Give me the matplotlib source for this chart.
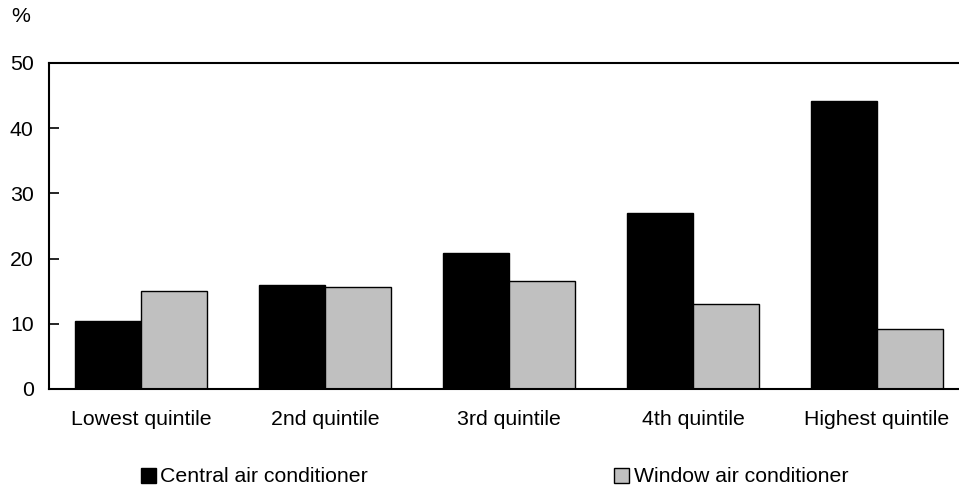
import numpy as np
import matplotlib
matplotlib.use('Agg')
import matplotlib.pyplot as plt

plt.rcParams['font.family'] = ['Liberation Sans', 'DejaVu Sans']
plt.rcParams['font.size'] = 15.3

categories = ['Lowest quintile', '2nd quintile', '3rd quintile', '4th quintile', 'Highest quintile']
central = [10.4, 15.9, 20.8, 27.0, 44.2]
window = [15.0, 15.6, 16.5, 13.1, 9.2]

fig = plt.figure(figsize=(9.59, 4.91), dpi=100)
# the plot area runs past the right edge of the figure, as in the source
ax = fig.add_axes([49/959, 1-389/491, 920/959, (389-63)/491])

x = np.arange(len(categories))
w = 0.36
ax.bar(x - w/2, central, w, color='black', edgecolor='black', linewidth=1, label='Central air conditioner')
ax.bar(x + w/2, window, w, color='#c0c0c0', edgecolor='black', linewidth=1, label='Window air conditioner')

ax.set_xlim(-0.5, 4.5)
ax.set_ylim(0, 50)
ax.set_yticks(range(0, 51, 10))
ax.set_xticks(x)
ax.set_xticklabels(categories)
ax.tick_params(axis='y', direction='in', length=7, width=1.2, pad=11)
ax.tick_params(axis='x', length=0, pad=15)
ax.spines['right'].set_visible(False)
for s in ['left', 'top', 'bottom']:
    ax.spines[s].set_linewidth(1.5)

fig.text(11/959, 1-17/491, '%', ha='left', va='center')

fig.legend(loc='center left', bbox_to_anchor=(141/959, 1-477/491), ncol=2,
           frameon=False, handlelength=0.7, handleheight=0.7, handletextpad=0.2,
           columnspacing=11.6, borderaxespad=0, borderpad=0)

plt.savefig('out.png', dpi=100)
